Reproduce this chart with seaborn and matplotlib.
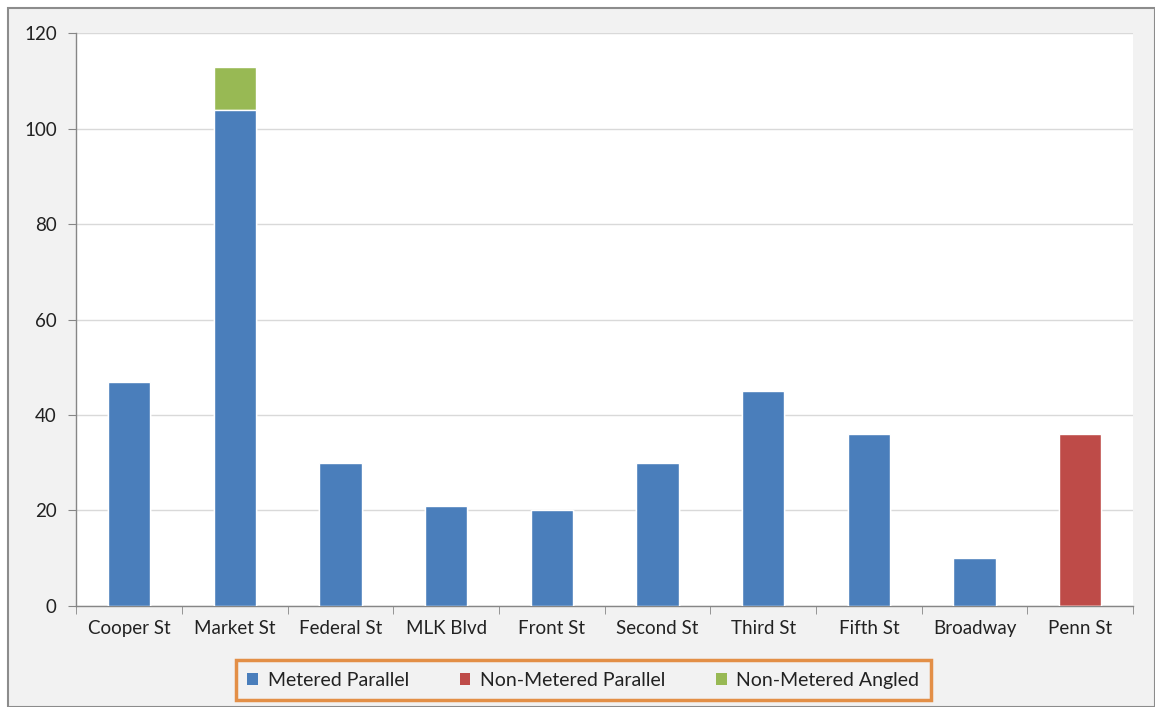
import numpy as np
import pandas as pd
import matplotlib.pyplot as plt
import seaborn as sns
from matplotlib.patches import Rectangle, Patch

# --- data ---
streets = ['Cooper St', 'Market St', 'Federal St', 'MLK Blvd', 'Front St',
           'Second St', 'Third St', 'Fifth St', 'Broadway', 'Penn St']
metered_parallel = [47, 104, 30, 21, 20, 30, 45, 36, 10, 0]
non_metered_parallel = [0, 0, 0, 0, 0, 0, 0, 0, 0, 36]
non_metered_angled = [0, 9, 0, 0, 0, 0, 0, 0, 0, 0]

series_names = ['Metered Parallel', 'Non-Metered Parallel', 'Non-Metered Angled']
colors = ['#4a7ebb', '#be4b48', '#98b954']

df = pd.DataFrame({'street': streets,
                   'mp': metered_parallel,
                   'nmp': non_metered_parallel,
                   'nma': non_metered_angled})
df['lvl1'] = df['mp']
df['lvl2'] = df['mp'] + df['nmp']
df['lvl3'] = df['lvl2'] + df['nma']

sns.set_style('white')
plt.rcParams['font.family'] = ['Lato', 'DejaVu Sans']

fig = plt.figure(figsize=(11.55, 7.07), dpi=100)
fig.patch.set_facecolor('white')
# outer chart frame (Excel-like)
fig.patches.append(Rectangle((0.007, 0.0), 0.993, 0.989, transform=fig.transFigure,
                             facecolor='#f2f2f2', edgecolor='#8c8c8c', linewidth=1.5,
                             zorder=-10))

ax = fig.add_axes([0.066, 0.143, 0.915, 0.81])
ax.set_facecolor('white')

# stacked bars: draw cumulative totals from top layer down
for col, c in zip(['lvl3', 'lvl2', 'lvl1'], [colors[2], colors[1], colors[0]]):
    sns.barplot(data=df, x='street', y=col, color=c, width=0.4, ax=ax,
                edgecolor='white', linewidth=1, saturation=1, zorder=3)

ax.set_ylim(0, 120)
ax.set_yticks(np.arange(0, 121, 20))
ax.set_xlim(-0.5, len(streets) - 0.5)
ax.grid(axis='y', color='#d9d9d9', linewidth=1, zorder=0)
ax.set_axisbelow(True)
ax.set_xlabel('')
ax.set_ylabel('')

for s in ['top', 'right']:
    ax.spines[s].set_visible(False)
for s in ['left', 'bottom']:
    ax.spines[s].set_color('#868686')
    ax.spines[s].set_linewidth(1)

ax.tick_params(axis='y', labelsize=13.5, length=6, color='#868686', direction='out',
               left=True, pad=8, labelcolor='#222222')
ax.tick_params(axis='x', labelsize=13.5, length=0, pad=10, labelcolor='#222222')
# category boundary ticks
ax.set_xticks(np.arange(-0.5, len(streets), 1), minor=True)
ax.tick_params(axis='x', which='minor', length=6, color='#868686', direction='out',
               bottom=True)

handles = [Patch(facecolor=c, edgecolor='none') for c in colors]
leg = fig.legend(handles, series_names, loc='center', bbox_to_anchor=(0.505, 0.038),
                 ncol=3, fontsize=14, frameon=True, handlelength=0.55, handleheight=0.55,
                 handletextpad=0.5, columnspacing=2.6, fancybox=False,
                 borderpad=0.6, borderaxespad=0, labelcolor='#222222')
leg.get_frame().set_edgecolor('#e0761c')
leg.get_frame().set_linewidth(2.5)
leg.get_frame().set_facecolor('#f2f2f2')

fig.savefig('out.png', dpi=100)
